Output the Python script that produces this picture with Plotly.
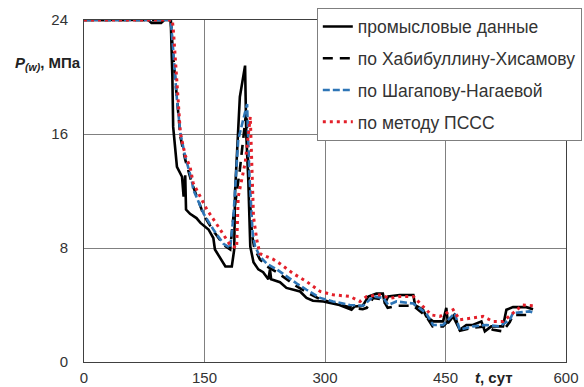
import plotly.graph_objects as go

# промысловые данные
t_field = [0, 80, 84, 96, 100, 108, 110, 111, 115.7, 122, 124, 126, 127, 132, 140, 145, 155, 161, 163, 170, 176, 184, 187, 188, 192, 194, 200.5, 202, 204.5, 207, 211, 217, 223, 229.5, 231.5, 233, 244, 252, 269, 277, 285, 298, 318, 333, 337, 347, 354, 364, 372, 374.5, 378.7, 393, 410, 412, 422, 426, 434.5, 447, 451, 453, 459.5, 467.7, 476, 484, 494.7, 499, 507, 521.6, 525.8, 534, 550.6, 559]
p_field = [24, 24, 23.8, 23.8, 24, 24, 20, 16.5, 13.7, 13, 11.6, 13.1, 10.7, 10.4, 10.1, 9.76, 9.3, 8.7, 7.9, 7.3, 6.7, 6.7, 7.9, 11.9, 16.3, 18.6, 20.8, 16, 12.8, 8.1, 7.0, 6.5, 6.3, 5.8, 6.5, 5.8, 5.6, 5.2, 4.95, 4.5, 4.3, 4.25, 4.0, 3.67, 3.9, 3.95, 4.6, 4.8, 4.8, 4.1, 4.6, 4.7, 4.7, 4.0, 3.67, 3.2, 2.85, 2.85, 3.8, 2.73, 3.2, 2.26, 2.6, 2.6, 2.85, 2.15, 2.5, 2.5, 3.67, 3.85, 3.85, 3.7]

# по Хабибуллину-Хисамову
t_kh = [0, 108, 111, 116, 120, 126, 134, 149, 161, 174, 182, 186, 194, 202, 205, 209, 212, 219, 228, 240, 252, 265, 277, 294, 310, 331, 347, 352, 360, 372, 378, 390, 410, 426, 434, 447, 453, 461, 468, 484, 500, 509, 521, 530, 534, 555]
p_kh = [24, 24, 21.5, 18, 15.8, 14.2, 12.6, 10.3, 9.2, 8.2, 7.9, 10.2, 13.5, 17.6, 13, 9, 8, 7.2, 6.7, 6.3, 5.8, 5.3, 4.9, 4.4, 4.15, 3.85, 3.7, 3.8, 4.5, 4.4, 3.8, 3.95, 3.95, 3.2, 2.5, 2.5, 2.85, 3.3, 2.2, 2.4, 2.5, 2.26, 2.15, 2.8, 3.3, 3.3]

# по Шагапову-Нагаевой
t_sn = [0, 108, 111, 115.7, 120, 126, 134, 136, 149, 161, 173.6, 182, 186, 192, 203, 206, 210, 213, 219, 227.5, 240, 252, 265, 277, 294, 310, 331, 347.6, 360, 372.5, 378.7, 389, 410, 426, 434.5, 447, 453, 461.5, 467.7, 484, 501, 517, 530, 534, 554.7, 558]
p_sn = [24, 24, 21.9, 18.4, 16.05, 14.4, 12.8, 12.1, 10.4, 9.3, 8.3, 8.0, 10.2, 15.6, 18.1, 13, 9, 8.1, 7.4, 6.9, 6.5, 6.0, 5.5, 5.07, 4.5, 4.25, 4.0, 3.95, 4.6, 4.5, 4.0, 4.25, 4.1, 3.43, 2.6, 2.6, 2.96, 3.43, 2.26, 2.5, 2.6, 2.5, 2.96, 3.43, 3.55, 3.5]

# по методу ПССС
t_pc = [0, 110, 111.5, 115.7, 120, 126, 132, 136, 153, 169.5, 182, 190, 192, 200.7, 207, 211, 215, 219, 235.7, 244, 260.6, 277, 294, 310, 331, 343.5, 352, 368, 381, 393, 410, 422, 432.5, 443, 459.5, 467.7, 480, 496.7, 509, 521.6, 534, 546, 559]
p_pc = [24, 24, 23.1, 19.55, 16.05, 14.5, 13.7, 12.55, 10.7, 9.3, 8.2, 8.0, 11.6, 14, 17.2, 10.2, 8.6, 7.6, 7.2, 6.9, 6.2, 5.65, 4.95, 4.72, 4.6, 4.25, 4.6, 4.72, 4.48, 4.6, 4.6, 3.9, 3.3, 3.2, 3.67, 2.96, 3.08, 3.2, 2.85, 2.85, 3.43, 4.0, 3.95]

x_ticks = [0, 150, 300, 450, 600]
y_ticks = [0, 8, 16, 24]

names = ["промысловые данные", "по Хабибуллину-Хисамову", "по Шагапову-Нагаевой", "по методу ПСCC"]

FONT = "Liberation Sans, Arial, sans-serif"

fig = go.Figure()
fig.add_trace(go.Scatter(x=t_field, y=p_field, mode="lines", name=names[0], legendgroup="a",
                         line=dict(color="black", width=2.6)))
fig.add_trace(go.Scatter(x=t_kh, y=p_kh, mode="lines", name=names[1], legendgroup="b",
                         line=dict(color="black", width=2.6, dash="10px,7px")))
fig.add_trace(go.Scatter(x=t_sn, y=p_sn, mode="lines", name=names[2], legendgroup="c",
                         line=dict(color="#2e75b6", width=2.6, dash="7px,3px")))
fig.add_trace(go.Scatter(x=t_pc, y=p_pc, mode="lines", name=names[3], legendgroup="d",
                         line=dict(color="#e3202a", width=3, dash="3px,4px")))

fig.update_layout(
    width=584, height=387,
    margin=dict(l=84, r=18, t=20, b=25, autoexpand=False),
    paper_bgcolor="white", plot_bgcolor="white",
    font=dict(family=FONT, size=15, color="#333333"),
    legend=dict(x=0.483, y=1.036, xanchor="left", yanchor="top",
                bgcolor="white", bordercolor="#7f7f7f", borderwidth=1,
                font=dict(size=17.5, color="#333333", family=FONT),
                tracegroupgap=6, itemwidth=30),
    xaxis=dict(range=[0, 600], tickvals=x_ticks, ticktext=[str(v) for v in x_ticks],
               showgrid=True, gridcolor="#808080", gridwidth=1, zeroline=False,
               showline=True, linecolor="#404040", linewidth=1, mirror=True,
               ticks="", ticklabelstandoff=2),
    yaxis=dict(range=[0, 24], tickvals=y_ticks, ticktext=[str(v) for v in y_ticks],
               showgrid=True, gridcolor="#808080", gridwidth=1, zeroline=False,
               showline=True, linecolor="#404040", linewidth=1, mirror=True,
               ticks="", ticklabelstandoff=12),
)

fig.add_annotation(xref="paper", yref="paper", x=-0.147, y=0.872, showarrow=False,
                   xanchor="left", yanchor="middle",
                   text="<b><i>P</i><sub><i>(w)</i></sub>, МПа</b>",
                   font=dict(size=15, color="#222222", family=FONT))
fig.add_annotation(xref="paper", yref="paper", x=0.807, y=-0.044, showarrow=False,
                   xanchor="left", yanchor="middle",
                   text="<b><i>t</i>, сут</b>",
                   font=dict(size=15, color="#222222", family=FONT))

fig.write_html("out.html")
